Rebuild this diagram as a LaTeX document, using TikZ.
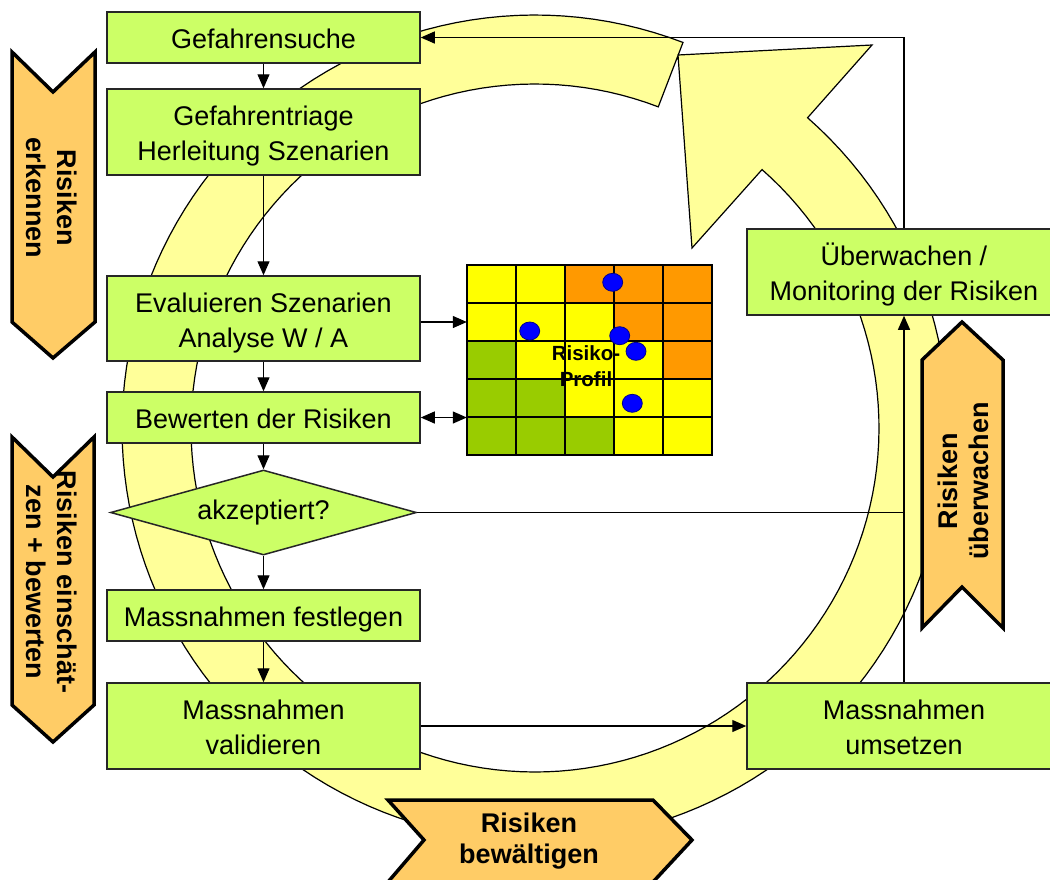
\documentclass[tikz,border=0pt]{standalone}
\usepackage{fontspec}
\setmainfont{Liberation Sans}
\usetikzlibrary{arrows.meta,calc,shapes.geometric}

\definecolor{boxgreen}{HTML}{CCFF66}
\definecolor{ringyellow}{HTML}{FFFF99}
\definecolor{chevorange}{HTML}{FFCC66}
\definecolor{cellY}{HTML}{FFFF00}
\definecolor{cellO}{HTML}{FF9900}
\definecolor{cellG}{HTML}{99CC00}
\definecolor{dotblue}{HTML}{0000FF}

\begin{document}
\begin{tikzpicture}[x=1pt,y=-1pt,
  box/.style={draw=black!85, line width=1.5pt, fill=boxgreen, inner sep=0pt, align=center,
    text height=22pt, text depth=0pt, font=\fontsize{27}{35}\selectfont},
  box2/.style={box, text height=57pt, text depth=0pt},
  decision/.style={diamond, aspect=3.6, draw=black!85, line width=1.5pt, fill=boxgreen, inner sep=0pt,
    minimum width=306pt, minimum height=85pt, font=\fontsize{27}{35}\selectfont},
  conn/.style={line width=1.2pt, -{Triangle[length=14pt,width=12pt]}},
  dblconn/.style={line width=1.2pt, {Triangle[length=14pt,width=12pt]}-{Triangle[length=14pt,width=12pt]}},
  plainline/.style={line width=1.2pt},
  ring/.style={draw=black, line width=1.2pt, fill=ringyellow, line join=miter},
  chev/.style={draw=black, line width=3.5pt, fill=chevorange, line join=miter},
  chevtext/.style={font=\fontsize{27}{31}\selectfont\bfseries, align=center, inner sep=0pt},
  gridline/.style={line width=1.6pt, draw=black},
  dot/.style={fill=dotblue, draw=blue!55!black, line width=0.8pt}
]
\useasboundingbox (0,0) rectangle (1050,879);
\clip (0,0) rectangle (1050,879);
\fill[white] (0,0) rectangle (1050,879);

% big circular arrow
\path[ring]
  plot[domain=69:408.7, samples=160] ({535+413*cos(\x)},{428-413*sin(\x)})
  -- (872,45) -- (678,55) -- (692,248)
  -- plot[domain=408.7:69, samples=160] ({535+344*cos(\x)},{428-344*sin(\x)})
  -- cycle;

% boxes
\node[box, minimum width=313pt, minimum height=51pt] (gs) at (263.5,37.5) {Gefahrensuche};
\node[box2, minimum width=313pt, minimum height=86pt] (gt) at (263.5,132) {Gefahrentriage\\Herleitung Szenarien};
\node[box2, minimum width=313pt, minimum height=85pt] (eva) at (263.5,318.5) {Evaluieren Szenarien\\Analyse W / A};
\node[box, minimum width=313pt, minimum height=51pt] (bew) at (263.5,417.5) {Bewerten der Risiken};
\node[decision] (dia) at (263.5,512.5) {akzeptiert?};
\node[box, minimum width=313pt, minimum height=51pt] (fest) at (263.5,615.5) {Massnahmen festlegen};
\node[box2, minimum width=313pt, minimum height=86pt] (val) at (263.5,726) {Massnahmen\\validieren};
\node[box2, minimum width=314pt, minimum height=86pt] (ums) at (904,726) {Massnahmen\\umsetzen};
\node[box2, minimum width=314pt, minimum height=86pt] (ueb) at (904,272) {Überwachen /\\Monitoring der Risiken};

% risk matrix
\node[minimum width=245pt, minimum height=190pt, inner sep=0pt] (mat) at (589.5,360) {};
\foreach \c [count=\i from 0] in {Y,Y,O,O,O, Y,Y,Y,O,O, G,Y,Y,Y,O, G,G,Y,Y,Y, G,G,G,Y,Y}{
  \pgfmathtruncatemacro\col{mod(\i,5)}
  \pgfmathtruncatemacro\rw{div(\i,5)}
  \fill[cell\c] ({467+49*\col},{265+38*\rw}) rectangle ++(49,38);
}
\foreach \k in {1,2,3,4}{
  \draw[gridline] ({467+49*\k},265) -- ({467+49*\k},455);
  \draw[gridline] (467,{265+38*\k}) -- (712,{265+38*\k});
}
\draw[line width=2pt] (mat.north west) rectangle (mat.south east);
\node[font=\fontsize{20.5}{26}\selectfont\bfseries, align=center, inner sep=0pt] (rp) at (586,366) {Risiko-\\Profil};
\foreach \px/\py in {612.7/282.3, 529.7/331, 619.7/335.7, 636/351.3, 632.3/403.3}{
  \path[dot] (\px,\py) ellipse[x radius=10, y radius=9];
}

% connectors
\draw[conn] (gs.south) -- (gt.north);
\draw[conn] (gt.south) -- (eva.north);
\draw[conn] (eva.south) -- (bew.north);
\draw[conn] (bew.south) -- (dia.north);
\draw[conn] (dia.south) -- (fest.north);
\draw[conn] (fest.south) -- (val.north);
\draw[conn] (val.east) -- (ums.west);
\draw[conn] (ums.north) -- (ueb.south);
\draw[plainline] (dia.east) -- (dia.east -| ums.north);
\draw[conn] (ueb.north) |- (gs.east);
\draw[conn] ([yshift=-3.5pt]eva.east) -- ([yshift=-3.5pt]eva.east -| mat.west);
\draw[dblconn] (bew.east) -- (bew.east -| mat.west);

% chevrons
\path[chev] (12,52) -- (53,92) -- (95,52) -- (95,322) -- (53,358) -- (12,322) -- cycle;
\node[chevtext, rotate=-90] (t1) at (52,198) {Risiken\\erkennen};
\path[chev] (12,437) -- (53,477) -- (94,437) -- (94,705) -- (53,742) -- (12,705) -- cycle;
\node[chevtext, rotate=-90] (t2) at (52,582) {Risiken einschät-\\zen + bewerten};
\path[chev] (962,322) -- (1003,360) -- (1003,628) -- (962,587) -- (922,628) -- (922,360) -- cycle;
\node[chevtext, rotate=90] (t3) at (963,481) {Risiken\\überwachen};
\path[chev] (388,800) -- (653,800) -- (692,840) -- (653,882) -- (388,882) -- (424,840) -- cycle;
\node[chevtext] (t4) at (529,841) {Risiken\\bewältigen};
\end{tikzpicture}
\end{document}
